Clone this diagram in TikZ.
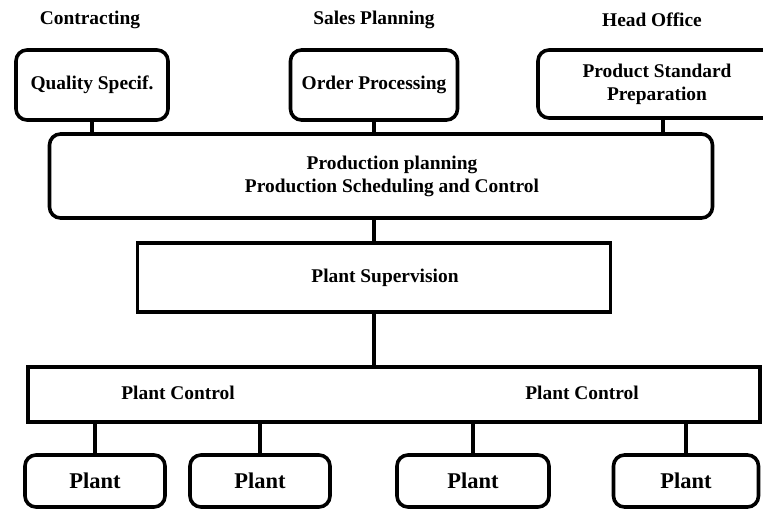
\documentclass[tikz,border=0pt]{standalone}
\usepackage{fontspec}
\setmainfont{Liberation Serif}
\usepackage{tikz}

\tikzset{
  unit/.style={draw, line width=3.6pt, align=center, inner sep=0pt,
    font=\bfseries\fontsize{19.4}{23}\selectfont},
  roundbox/.style={unit, rounded corners=11pt},
  squarebox/.style={unit},
  plantbox/.style={roundbox, minimum height=52pt,
    font=\bfseries\fontsize{22.5}{26}\selectfont},
  heading/.style={font=\bfseries\fontsize{19.4}{23}\selectfont},
  link/.style={line width=3.6pt}
}

\begin{document}
\begin{tikzpicture}[x=1pt, y=-1pt]
                \clip (0,0) rectangle (763,509);
                \fill[white] (0,0) rectangle (763,509);

                % Department headings
                \node[heading] (hcon) at (90,20) {Contracting};
                \node[heading] (hsal) at (374,20) {Sales Planning};
                \node[heading] (hhead) at (652,20) {Head Office};

                % Top row
                \node[roundbox, minimum width=152pt, minimum height=70pt] (qual) at (92,85) {Quality Specif.};
                \node[roundbox, minimum width=167pt, minimum height=70pt] (order) at (374,85) {Order Processing};
                \node[roundbox, minimum width=250pt, minimum height=68pt] (prod) at (663,84)
                    {Product Standard\hspace*{12pt}\\Preparation\hspace*{12pt}};

                % Planning
                \node[roundbox, minimum width=663pt, minimum height=84pt] (plan) at (381,176)
                    {\hspace*{22pt}Production planning\\\hspace*{22pt}Production Scheduling and Control};

                % Supervision
                \node[squarebox, minimum width=473pt, minimum height=69pt] (sup) at (374,277.5)
                    {\hspace*{22pt}Plant Supervision};

                % Control
                \node[squarebox, minimum width=732pt, minimum height=55pt] (ctrl) at (394,394.5) {};
                \node[heading] (ctrlL) at (178,393) {Plant Control};
                \node[heading] (ctrlR) at (582,393) {Plant Control};

                % Plants
                \node[plantbox, minimum width=140pt] (p1) at (95,481) {Plant};
                \node[plantbox, minimum width=140pt] (p2) at (260,481) {Plant};
                \node[plantbox, minimum width=152pt] (p3) at (473,481) {Plant};
                \node[plantbox, minimum width=145pt] (p4) at (686,481) {Plant};

                % Links
                \draw[link] (qual.south) -- (qual.south |- plan.north);
                \draw[link] (order.south) -- (order.south |- plan.north);
                \draw[link] (prod.south) -- (prod.south |- plan.north);
                \draw[link] (plan.south -| sup.north) -- (sup.north);
                \draw[link] (sup.south) -- (sup.south |- ctrl.north);
                \draw[link] (p1.north) -- (p1.north |- ctrl.south);
                \draw[link] (p2.north) -- (p2.north |- ctrl.south);
                \draw[link] (p3.north) -- (p3.north |- ctrl.south);
                \draw[link] (p4.north) -- (p4.north |- ctrl.south);
\end{tikzpicture}
\end{document}
